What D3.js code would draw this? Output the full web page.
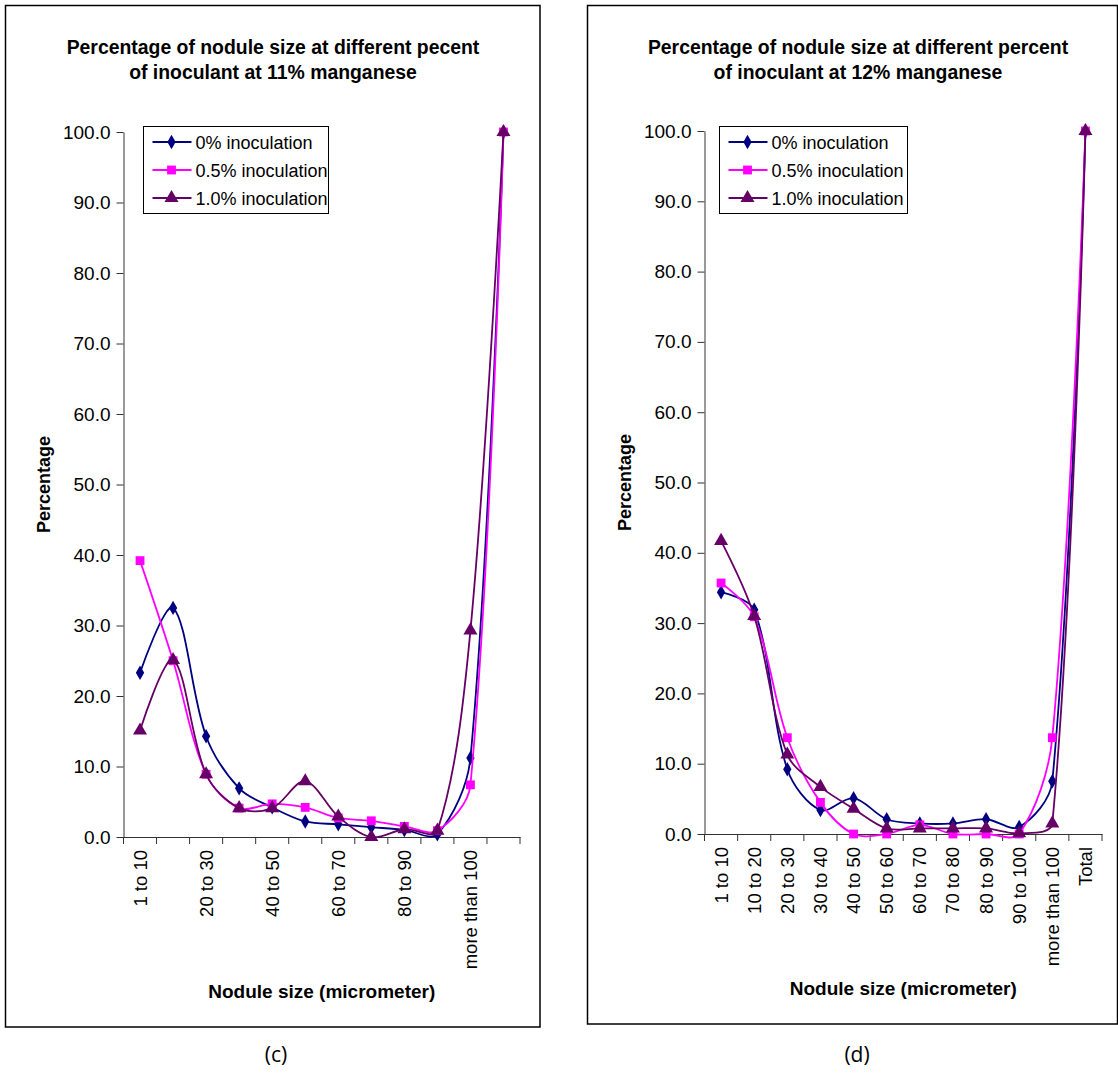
<!DOCTYPE html>
<html>
  <head>
    <meta charset="utf-8">
    <title>Nodule size at different inoculant</title>
    <script src="https://d3js.org/d3.v7.min.js"></script>
    <style>
      body { margin: 0; background: #fff; }
      text { font-family: "Liberation Sans", Arial, sans-serif; fill: #000; }
    </style>
  </head>
  <body>
    <svg id="chart" width="1118" height="1073"></svg>

    <script>
      // ---- data ----
      const categories = ["1 to 10", "10 to 20", "20 to 30", "30 to 40", "40 to 50", "50 to 60",
        "60 to 70", "70 to 80", "80 to 90", "90 to 100", "more than 100", "Total"];
      const seriesNames = ["0% inoculation", "0.5% inoculation", "1.0% inoculation"];
      const yTicks = [0, 10, 20, 30, 40, 50, 60, 70, 80, 90, 100];

      // 11% manganese (c)
      const mn11_0 = [23.3, 32.5, 14.3, 6.9, 4.2, 2.2, 1.8, 1.4, 1.0, 0.4, 11.2, 100];
      const mn11_05 = [39.2, 25.0, 8.9, 4.1, 4.7, 4.2, 2.7, 2.3, 1.5, 0.9, 7.4, 100];
      const mn11_10 = [15.1, 25.1, 8.9, 4.1, 4.1, 7.9, 2.9, 0.0, 1.1, 0.9, 29.3, 100];

      // 12% manganese (d)
      const mn12_0 = [34.4, 31.9, 9.2, 3.4, 5.1, 2.1, 1.5, 1.5, 2.1, 1.0, 7.5, 100];
      const mn12_05 = [35.7, 30.9, 13.7, 4.5, 0.0, 0.0, 1.3, 0.0, 0.0, 0.0, 13.7, 100];
      const mn12_10 = [41.7, 31.0, 11.3, 6.7, 3.6, 0.8, 0.8, 0.8, 0.8, 0.1, 1.5, 100];

      const colors = ["#000080", "#ff00ff", "#660066"];
      const symbols = [d3.symbolDiamond, d3.symbolSquare, d3.symbolTriangle];
      const symbolSizes = [60, 78, 85];

      const svg = d3.select("#chart");

      // spreadsheet-style smoothed line: bezier with tangents weighted by segment length
      function smoothPath(pts) {
        const p = d3.path();
        const f = 1 / 3;
        const dist = (a, b) => Math.hypot(b[0] - a[0], b[1] - a[1]);
        const before = [], after = [];
        pts.forEach((pt, i) => {
          if (i === 0 || i === pts.length - 1) {
            before[i] = pt; after[i] = pt;
            return;
          }
          const p0 = pts[i - 1], p2 = pts[i + 1];
          const d01 = dist(p0, pt), d12 = dist(pt, p2), sum = d01 + d12 || 1;
          const tx = p2[0] - p0[0], ty = p2[1] - p0[1];
          before[i] = [pt[0] - tx * f * d01 / sum, pt[1] - ty * f * d01 / sum];
          after[i] = [pt[0] + tx * f * d12 / sum, pt[1] + ty * f * d12 / sum];
        });
        p.moveTo(pts[0][0], pts[0][1]);
        for (let i = 0; i < pts.length - 1; i++) {
          p.bezierCurveTo(after[i][0], after[i][1], before[i + 1][0], before[i + 1][1],
            pts[i + 1][0], pts[i + 1][1]);
        }
        return p.toString();
      }

      function drawChart(opt) {
        const g = svg.append("g");

        // outer frame
        g.append("rect")
          .attr("x", opt.box[0]).attr("y", opt.box[1])
          .attr("width", opt.box[2]).attr("height", opt.box[3])
          .attr("fill", "none").attr("stroke", "#000").attr("stroke-width", 1.5);

        // title
        opt.title.forEach((t, i) => {
          g.append("text")
            .attr("x", opt.titleX).attr("y", 54 + i * 25)
            .attr("text-anchor", "middle")
            .style("font-size", "19.4px").style("font-weight", "bold")
            .text(t);
        });

        const x = d3.scaleBand().domain(categories).range([opt.x0, opt.x1]);
        const y = d3.scaleLinear().domain([0, 100]).range([opt.yBottom, opt.yTop]);
        const cx = d => x(d) + x.bandwidth() / 2;

        // y axis
        const yAxis = g.append("g")
          .attr("transform", `translate(${opt.x0},0)`)
          .call(d3.axisLeft(y).tickValues(yTicks).tickFormat(d3.format(".1f"))
            .tickSize(7).tickPadding(6).tickSizeOuter(0));
        yAxis.select(".domain").attr("stroke", "#333");
        yAxis.selectAll(".tick line").attr("stroke", "#333");
        yAxis.selectAll("text").style("font-size", "19px")
          .style("font-family", "Liberation Sans, Arial, sans-serif").attr("fill", "#000");

        // x axis
        const xAxis = g.append("g")
          .attr("transform", `translate(0,${opt.yBottom})`)
          .call(d3.axisBottom(x)
            .tickValues(categories.filter((d, i) => i % opt.labelStep === 0))
            .tickSize(0).tickSizeOuter(0));
        xAxis.select(".domain").attr("stroke", "#333");
        xAxis.selectAll("text")
          .attr("transform", "rotate(-90)")
          .attr("text-anchor", "end")
          .attr("x", -13).attr("y", 0).attr("dy", "0.35em")
          .style("font-size", "18.5px")
          .style("font-family", "Liberation Sans, Arial, sans-serif").attr("fill", "#000");
        // ticks between categories
        xAxis.selectAll(".bound")
          .data(d3.range(categories.length + 1))
          .join("line")
          .attr("class", "bound")
          .attr("x1", i => opt.x0 + i * x.bandwidth())
          .attr("x2", i => opt.x0 + i * x.bandwidth())
          .attr("y1", 0).attr("y2", 7)
          .attr("stroke", "#333");

        // axis titles
        g.append("text")
          .attr("transform", `translate(${opt.yLabelX},${(opt.yTop + opt.yBottom) / 2}) rotate(-90)`)
          .attr("text-anchor", "middle")
          .style("font-size", "18px").style("font-weight", "bold")
          .text("Percentage");
        g.append("text")
          .attr("x", (opt.x0 + opt.x1) / 2).attr("y", opt.xLabelY)
          .attr("text-anchor", "middle")
          .style("font-size", "19px").style("font-weight", "bold")
          .text("Nodule size (micrometer)");

        // series
        opt.series.forEach((vals, s) => {
          const pts = vals.map((v, i) => [cx(categories[i]), y(v)]);
          g.append("path")
            .attr("d", smoothPath(pts))
            .attr("fill", "none")
            .attr("stroke", colors[s])
            .attr("stroke-width", 1.8);
          g.selectAll(null)
            .data(vals)
            .join("path")
            .attr("transform", (d, i) => `translate(${cx(categories[i])},${y(d)})`)
            .attr("d", d3.symbol().type(symbols[s]).size(symbolSizes[s]))
            .attr("fill", colors[s]);
        });

        // legend
        const lg = g.append("g").attr("transform", `translate(${opt.legend[0]},${opt.legend[1]})`);
        lg.append("rect")
          .attr("width", opt.legend[2]).attr("height", 87)
          .attr("fill", "#fff").attr("stroke", "#000").attr("stroke-width", 1);
        seriesNames.forEach((name, s) => {
          const ly = 15.5 + s * 28;
          lg.append("line")
            .attr("x1", 9).attr("x2", 48).attr("y1", ly).attr("y2", ly)
            .attr("stroke", colors[s]).attr("stroke-width", 1.8);
          lg.append("path")
            .attr("transform", `translate(28,${ly})`)
            .attr("d", d3.symbol().type(symbols[s]).size(symbolSizes[s]))
            .attr("fill", colors[s]);
          lg.append("text")
            .attr("x", 52).attr("y", ly + 6.5)
            .style("font-size", "18px")
            .text(name);
        });

        // panel letter
        svg.append("text")
          .attr("x", opt.letterX).attr("y", 1062)
          .attr("text-anchor", "middle")
          .style("font-family", "Open Sans, sans-serif")
          .style("font-size", "21px")
          .text(opt.letter);
      }

      drawChart({
        box: [5.5, 5.5, 534.5, 1021.5],
        title: ["Percentage of nodule size at different pecent", "of inoculant at 11% manganese"],
        titleX: 273,
        x0: 123.5, x1: 520, yTop: 132, yBottom: 837,
        labelStep: 2,
        yLabelX: 50, xLabelY: 998,
        series: [mn11_0, mn11_05, mn11_10],
        legend: [143.5, 126.5, 185],
        letter: "(c)", letterX: 276
      });

      drawChart({
        box: [587.5, 5.5, 530, 1018.5],
        title: ["Percentage of nodule size at different percent", "of inoculant at 12% manganese"],
        titleX: 858,
        x0: 704.5, x1: 1102, yTop: 131, yBottom: 834,
        labelStep: 1,
        yLabelX: 631, xLabelY: 995,
        series: [mn12_0, mn12_05, mn12_10],
        legend: [719.5, 126.5, 188],
        letter: "(d)", letterX: 857
      });
    </script>
  </body>
</html>
